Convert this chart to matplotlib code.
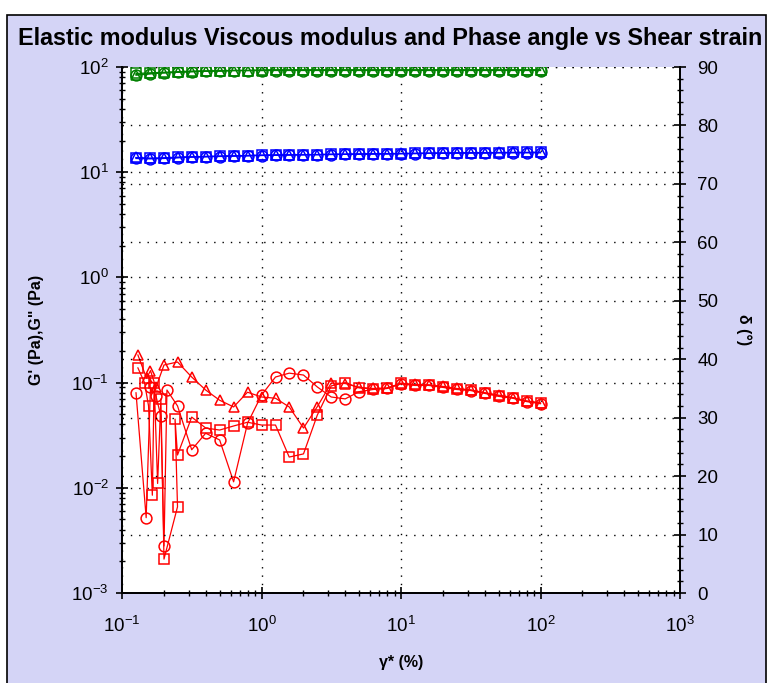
#!/usr/bin/env python3
import matplotlib
matplotlib.use("Agg")
import matplotlib.pyplot as plt
from matplotlib.patches import Rectangle
from matplotlib.ticker import LogLocator, MultipleLocator

plt.rcParams["font.family"] = ["Liberation Sans", "DejaVu Sans"]
plt.rcParams["mathtext.default"] = "regular"

# shear strain (%) - 10 points per decade
strain = [0.126, 0.158, 0.2, 0.251, 0.316, 0.398, 0.501, 0.631, 0.794, 1.0,
          1.26, 1.58, 2.0, 2.51, 3.16, 3.98, 5.01, 6.31, 7.94, 10.0,
          12.6, 15.8, 20.0, 25.1, 31.6, 39.8, 50.1, 63.1, 79.4, 100.0]

# G' (red), three runs; the low-strain part is noisy and the strain jumps around
red_x_circle = [0.126, 0.149, 0.16, 0.175, 0.19, 0.2, 0.21, 0.25, 0.316, 0.398,
                0.501, 0.631, 0.794, 1.0, 1.26, 1.58, 2.0, 2.51, 3.16, 3.98,
                5.01, 6.31, 7.94, 10.0, 12.6, 15.8, 20.0, 25.1, 31.6, 39.8,
                50.1, 63.1, 79.4, 100.0]
g1_circle = [0.080, 0.0052, 0.090, 0.075, 0.048, 0.0028, 0.085, 0.060, 0.023, 0.033,
             0.0285, 0.0114, 0.041, 0.076, 0.113, 0.123, 0.118, 0.091, 0.073, 0.070,
             0.082, 0.086, 0.088, 0.097, 0.094, 0.094, 0.090, 0.086, 0.084, 0.079,
             0.074, 0.071, 0.066, 0.063]
red_x_square = [0.13, 0.145, 0.155, 0.165, 0.17, 0.18, 0.19, 0.2, 0.25, 0.24,
                0.25, 0.316, 0.398, 0.501, 0.631, 0.794, 1.0, 1.26, 1.58, 2.0,
                2.51, 3.16, 3.98, 5.01, 6.31, 7.94, 10.0, 12.6, 15.8, 20.0,
                25.1, 31.6, 39.8, 50.1, 63.1, 79.4, 100.0]
g1_square = [0.138, 0.100, 0.060, 0.0085, 0.100, 0.011, 0.070, 0.0021, 0.0066, 0.045,
             0.0205, 0.047, 0.037, 0.0354, 0.0387, 0.042, 0.0395, 0.0395, 0.0196, 0.021,
             0.049, 0.093, 0.100, 0.089, 0.087, 0.088, 0.099, 0.095, 0.095, 0.091,
             0.087, 0.085, 0.080, 0.075, 0.072, 0.0665, 0.064]
red_x_triangle = [0.13, 0.15, 0.16, 0.175, 0.2, 0.25, 0.316, 0.398, 0.501, 0.631,
                  0.794, 1.0, 1.26, 1.58, 2.0, 2.51, 3.16, 3.98, 5.01, 6.31,
                  7.94, 10.0, 12.6, 15.8, 20.0, 25.1, 31.6, 39.8, 50.1, 63.1,
                  79.4, 100.0]
g1_triangle = [0.183, 0.110, 0.130, 0.090, 0.147, 0.157, 0.113, 0.085, 0.068, 0.0587,
               0.081, 0.073, 0.071, 0.0587, 0.037, 0.059, 0.099, 0.098, 0.090, 0.088,
               0.089, 0.098, 0.096, 0.095, 0.092, 0.088, 0.085, 0.080, 0.076, 0.072,
               0.067, 0.064]

# G'' (blue), three runs
g2_circle = [13.5, 13.4, 13.5, 13.7, 13.9, 14.0, 14.1, 14.2, 14.3, 14.4,
             14.5, 14.6, 14.6, 14.7, 14.7, 14.8, 14.8, 14.9, 14.9, 15.0,
             15.0, 15.1, 15.1, 15.2, 15.2, 15.2, 15.3, 15.3, 15.3, 15.3]
g2_square = [13.7, 13.6, 13.6, 13.8, 14.0, 14.1, 14.2, 14.3, 14.4, 14.5,
             14.6, 14.6, 14.7, 14.7, 14.8, 14.8, 14.9, 14.9, 15.0, 15.0,
             15.1, 15.1, 15.2, 15.2, 15.3, 15.3, 15.3, 15.4, 15.4, 15.4]
g2_triangle = [13.8, 13.5, 13.7, 13.9, 14.0, 14.1, 14.2, 14.3, 14.4, 14.5,
               14.5, 14.6, 14.7, 14.7, 14.8, 14.8, 14.9, 15.0, 15.0, 15.1,
               15.1, 15.2, 15.2, 15.3, 15.3, 15.3, 15.4, 15.4, 15.4, 15.5]

# phase angle (green), three runs
delta_circle = [88.6, 88.8, 89.0, 89.1, 89.2, 89.3, 89.3, 89.4, 89.4, 89.4,
                89.4, 89.4, 89.4, 89.4, 89.4, 89.4, 89.4, 89.4, 89.4, 89.4,
                89.4, 89.4, 89.4, 89.4, 89.4, 89.4, 89.4, 89.4, 89.4, 89.4]
delta_square = [88.9, 89.0, 89.1, 89.2, 89.3, 89.3, 89.4, 89.4, 89.4, 89.5,
                89.5, 89.5, 89.5, 89.5, 89.5, 89.5, 89.5, 89.5, 89.5, 89.5,
                89.5, 89.5, 89.5, 89.5, 89.5, 89.5, 89.5, 89.5, 89.5, 89.5]
delta_triangle = [88.7, 88.9, 89.0, 89.1, 89.2, 89.3, 89.3, 89.4, 89.4, 89.4,
                  89.5, 89.5, 89.5, 89.5, 89.5, 89.5, 89.5, 89.5, 89.5, 89.5,
                  89.5, 89.5, 89.5, 89.5, 89.5, 89.5, 89.5, 89.5, 89.5, 89.5]

BG = "#d4d4f6"
GRID = dict(color="black", linestyle=(0, (1, 5)), linewidth=1.0)

fig = plt.figure(figsize=(7.71, 6.83), dpi=100, facecolor="white")
fig.patches.append(Rectangle((7 / 771, -0.01), 759 / 771, 1.01 - 15 / 683,
                             transform=fig.transFigure, facecolor=BG,
                             edgecolor="black", linewidth=1.2, zorder=-10))

ax = fig.add_axes([122 / 771, 90 / 683, 558 / 771, 526 / 683])
ax2 = ax.twinx()

mk = dict(markersize=7.8, markerfacecolor="none", markeredgewidth=1.1, linewidth=0.9)
for xs, ys, m in [(red_x_circle, g1_circle, "o"), (red_x_square, g1_square, "s"),
                  (red_x_triangle, g1_triangle, "^")]:
    ax.plot(xs, ys, marker=m, color="#ff0000", **mk)
for ys, m in [(g2_circle, "o"), (g2_square, "s"), (g2_triangle, "^")]:
    ax.plot(strain, ys, marker=m, color="#0000ff", **mk)
for ys, m in [(delta_circle, "o"), (delta_square, "s"), (delta_triangle, "^")]:
    ax2.plot(strain, ys, marker=m, color="#008000", **mk)

ax.set_xscale("log")
ax.set_yscale("log")
ax.set_xlim(0.1, 1000)
ax.set_ylim(1e-3, 1e2)
ax2.set_ylim(0, 90)
ax2.yaxis.set_major_locator(MultipleLocator(10))
ax2.yaxis.set_minor_locator(MultipleLocator(2))
ax.xaxis.set_major_locator(LogLocator(base=10, numticks=10))
ax.yaxis.set_major_locator(LogLocator(base=10, numticks=10))

ax.grid(True, which="major", **GRID)
ax2.grid(True, which="major", axis="y", **GRID)

for a in (ax, ax2):
    a.spines["top"].set_visible(False)
    for s in a.spines.values():
        s.set_linewidth(1.3)
ax.tick_params(which="major", direction="inout", length=9, width=1.2, labelsize=13.5)
ax.tick_params(which="minor", direction="inout", length=5, width=1.0)
ax.tick_params(axis="x", pad=12)
ax.tick_params(axis="y", pad=5)
ax.tick_params(axis="y", which="both", right=False)
ax2.tick_params(which="major", direction="inout", length=9, width=1.2, labelsize=13.5, pad=8)
ax2.tick_params(which="minor", direction="inout", length=5, width=1.0)

ax.set_xlabel("γ* (%)", fontsize=11.5, fontweight="bold", labelpad=14)
ax.set_ylabel("G' (Pa),G\" (Pa)", fontsize=11.5, fontweight="bold", labelpad=20)
ax2.set_ylabel("δ (°)", fontsize=11.5, fontweight="bold", rotation=270, labelpad=24)

fig.text(390 / 771, 1 - 38 / 683, "Elastic modulus Viscous modulus and Phase angle vs Shear strain",
         ha="center", va="center", fontsize=16.8, fontweight="bold")

fig.savefig("out.png", dpi=100, facecolor=fig.get_facecolor())
